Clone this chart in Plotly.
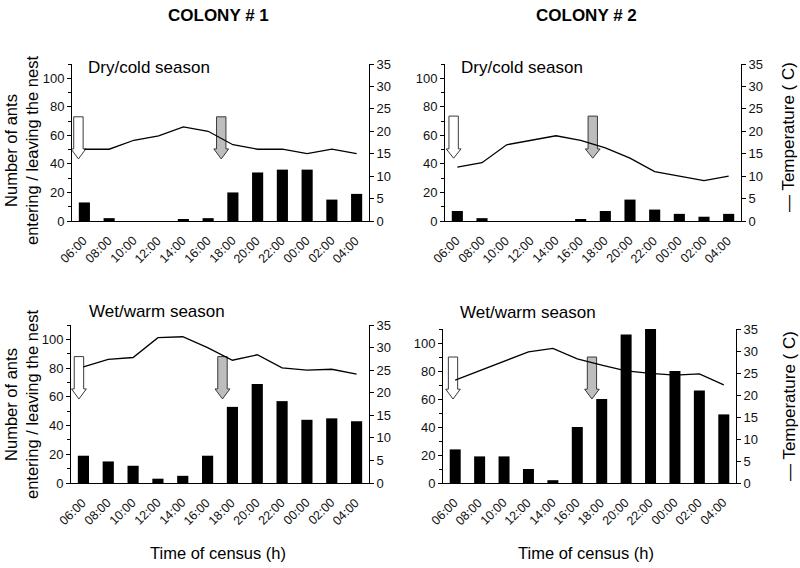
import plotly.graph_objects as go

# ---------------- data ----------------
hours = ["06:00", "08:00", "10:00", "12:00", "14:00", "16:00",
         "18:00", "20:00", "22:00", "00:00", "02:00", "04:00"]

c1_dry_ants = [13, 2, 0, 0, 1, 2, 20, 34, 36, 36, 15, 19]
c1_dry_temp = [16, 16, 18, 19, 21, 20, 17, 16, 16, 15, 16, 15]

c2_dry_ants = [7, 2, 0, 0, 0, 1, 7, 15, 8, 5, 3, 5]
c2_dry_temp = [12, 13, 17, 18, 19, 18, 16.3, 14, 11, 10, 9, 10]

c1_wet_ants = [19, 15, 12, 3, 5, 19, 53, 69, 57, 44, 45, 43]
c1_wet_temp = [25.7, 27.4, 27.8, 32.2, 32.4, 30, 27.2, 28.4, 25.5, 25, 25.2, 24.1]

c2_wet_ants = [24, 19, 19, 10, 2, 40, 60, 106, 110, 80, 66, 49]
c2_wet_temp = [23.4, 25.5, 27.7, 29.8, 30.6, 28.2, 26.8, 25.5, 24.9, 24.5, 24.8, 22.3]

# sunrise (white) / sunset (grey) arrow markers: x position (category index), top, head base, tip
white_arrows = [(-0.24, 73, 50.5, 43.5), (-0.15, 73.5, 50.5, 44), (-0.18, 88, 65.5, 58.5), (-0.09, 90, 67, 60)]
grey_arrows = [(5.53, 73, 50.5, 43.5), (5.49, 73.5, 50.5, 44), (5.6, 88, 65.5, 58.5), (5.6, 90, 67, 60)]

panels = [
    ("Dry/cold season", c1_dry_ants, c1_dry_temp),
    ("Dry/cold season", c2_dry_ants, c2_dry_temp),
    ("Wet/warm season", c1_wet_ants, c1_wet_temp),
    ("Wet/warm season", c2_wet_ants, c2_wet_temp),
]

# ---------------- layout geometry (pixels) ----------------
W, H = 800, 568
FONT = "Liberation Sans, Arial, sans-serif"
# (x0, x1, ytop, ybottom)
boxes = [(72, 369, 64, 221), (445, 741, 64, 221), (71, 369, 325, 483), (443, 736, 329, 483)]

def px(x):
    return x / W

def py(y):
    return 1 - y / H

fig = go.Figure()
xpos = list(range(len(hours)))
bounds = [k - 0.5 for k in range(len(hours) + 1)]

def arrow_poly(xc, top, base, tip, bw=0.19, hw=0.30):
    xs = [xc - bw, xc + bw, xc + bw, xc + hw, xc, xc - hw, xc - bw, xc - bw]
    ys = [top, top, base, base, tip, base, base, top]
    return xs, ys

layout = dict(
    width=W, height=H, margin=dict(l=0, r=0, t=0, b=0), autosize=False,
    paper_bgcolor="white", plot_bgcolor="white", showlegend=False,
    font=dict(family=FONT, size=13, color="#111"),
    bargap=0.55,
)

annotations = []
for i, (title, ants, temp) in enumerate(panels):
    n = i + 1
    xa = "x" if n == 1 else f"x{n}"
    xb_idx = n + 4
    yl_idx = 2 * i + 1
    yr_idx = 2 * i + 2
    yl = "y" if yl_idx == 1 else f"y{yl_idx}"
    yr = f"y{yr_idx}"

    fig.add_trace(go.Bar(x=xpos, y=ants, marker=dict(color="black", line=dict(width=0)),
                         xaxis=xa, yaxis=yl, width=0.45))
    fig.add_trace(go.Scatter(x=xpos, y=temp, mode="lines", line=dict(color="black", width=1.3),
                             xaxis=xa, yaxis=yr))
    for (arr, fill) in ((white_arrows[i], "white"), (grey_arrows[i], "#bdbdbd")):
        xs, ys = arrow_poly(*arr)
        fig.add_trace(go.Scatter(x=xs, y=ys, mode="lines", fill="toself", fillcolor=fill,
                                 line=dict(color="#3a3a3a", width=1), xaxis=xa, yaxis=yl,
                                 hoverinfo="skip"))

    x0, x1, yt, yb = boxes[i]
    xkey = "xaxis" if n == 1 else f"xaxis{n}"
    xbkey = f"xaxis{xb_idx}"
    ylkey = "yaxis" if yl_idx == 1 else f"yaxis{yl_idx}"
    yrkey = f"yaxis{yr_idx}"
    # main x axis: line only (hour labels are rotated annotations placed on this axis)
    layout[xkey] = dict(
        domain=[px(x0), px(x1)], anchor=yl, range=[-0.5, 11.5],
        tickmode="array", tickvals=xpos, ticktext=hours, showticklabels=False,
        ticks="", automargin=False,
        showline=True, linecolor="black", linewidth=1, showgrid=False, zeroline=False,
    )
    # category boundary tick marks
    layout[xbkey] = dict(
        domain=[px(x0), px(x1)], anchor=yl, overlaying=xa, side="bottom", range=[-0.5, 11.5],
        tickmode="array", tickvals=bounds, showticklabels=False, automargin=False,
        ticks="outside", ticklen=4, tickcolor="black",
        showline=False, showgrid=False, zeroline=False,
    )
    layout[ylkey] = dict(
        domain=[py(yb), py(yt)], anchor=xa, range=[0, 110], automargin=False,
        tickmode="array", tickvals=[0, 20, 40, 60, 80, 100],
        ticks="outside", ticklen=4, tickcolor="black",
        minor=dict(tick0=0, dtick=10, ticks="outside", ticklen=3, tickcolor="black"),
        showline=True, linecolor="black", linewidth=1, showgrid=False, zeroline=False,
        tickfont=dict(size=13, family=FONT, color="#111"),
    )
    layout[yrkey] = dict(
        domain=[py(yb), py(yt)], anchor=xa, overlaying=yl, side="right", range=[0, 35],
        automargin=False,
        tickmode="linear", tick0=0, dtick=5,
        ticks="outside", ticklen=4, tickcolor="black",
        showline=True, linecolor="black", linewidth=1, showgrid=False, zeroline=False,
        tickfont=dict(size=13, family=FONT, color="#111"),
    )
    # hour labels at -45 degrees, positioned through the panel's x axis
    for k, lab in zip(xpos, hours):
        annotations.append(dict(text=lab, x=k, y=py(yb), xref=xa, yref="paper",
                                xanchor="right", yanchor="top", textangle=-45,
                                xshift=8, yshift=-10, showarrow=False,
                                font=dict(size=12.5, family=FONT, color="#111")))

# season labels
season_pos = [(86, 67), (459, 67), (87, 311), (458, 312)]
for (title, _, _), (sx, sy) in zip(panels, season_pos):
    annotations.append(dict(text=title, x=px(sx), y=py(sy), xref="paper", yref="paper",
                            xanchor="left", yanchor="middle", showarrow=False,
                            font=dict(size=17, family=FONT, color="black")))

# colony headings
for txt, cx in (("COLONY # 1", 218), ("COLONY # 2", 586)):
    annotations.append(dict(text=f"<b>{txt}</b>", x=px(cx), y=py(15), xref="paper", yref="paper",
                            xanchor="center", yanchor="middle", showarrow=False,
                            font=dict(size=17, family=FONT, color="black")))

# x-axis titles
for cx in (218, 586):
    annotations.append(dict(text="Time of census (h)", x=px(cx), y=py(553), xref="paper", yref="paper",
                            xanchor="center", yanchor="middle", showarrow=False,
                            font=dict(size=16.5, family=FONT, color="black")))

# left axis titles
for cy in (151, 405):
    annotations.append(dict(text="Number of ants<br>entering / leaving the nest", x=px(21), y=py(cy),
                            xref="paper", yref="paper", xanchor="center", yanchor="middle",
                            textangle=-90, showarrow=False,
                            font=dict(size=16.5, family=FONT, color="black")))

# right axis titles
for cy in (137, 406):
    annotations.append(dict(text="— Temperature ( C)", x=px(789), y=py(cy),
                            xref="paper", yref="paper", xanchor="center", yanchor="middle",
                            textangle=-90, showarrow=False,
                            font=dict(size=17, family=FONT, color="black")))

layout["annotations"] = annotations
fig.update_layout(**layout)
fig.write_html("out.html")
